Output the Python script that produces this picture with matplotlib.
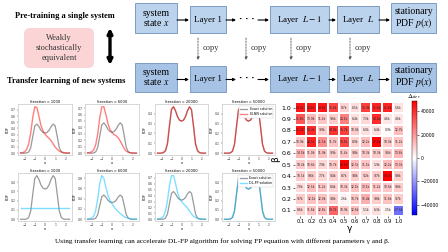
import numpy as np
import matplotlib
matplotlib.use('Agg')
import matplotlib.pyplot as plt
from matplotlib.patches import FancyBboxPatch, Rectangle
from matplotlib.ticker import MultipleLocator

plt.rcParams['mathtext.fontset'] = 'stix'
SERIF = ['Liberation Serif', 'DejaVu Serif']

# ---- curve data ----
x_grid = [-2.4, -2.2, -2.0, -1.8, -1.6, -1.4, -1.2, -1.0, -0.8, -0.6, -0.4, -0.2, 0.0,
          0.2, 0.4, 0.6, 0.8, 1.0, 1.2, 1.4, 1.6, 1.8, 2.0, 2.2, 2.4]
exact = [0.0, 0.0, 0.0, 0.003, 0.02, 0.09, 0.27, 0.44, 0.47, 0.43, 0.37, 0.335, 0.325,
         0.335, 0.37, 0.43, 0.47, 0.44, 0.27, 0.09, 0.02, 0.003, 0.0, 0.0, 0.0]

red_1000 = [0.005, 0.01, 0.02, 0.06, 0.15, 0.33, 0.58, 0.75, 0.74, 0.60, 0.45, 0.36, 0.31,
            0.27, 0.24, 0.20, 0.15, 0.10, 0.06, 0.035, 0.02, 0.01, 0.005, 0.003, 0.002]
red_6000 = [0.005, 0.01, 0.02, 0.05, 0.13, 0.30, 0.55, 0.72, 0.72, 0.60, 0.46, 0.37, 0.32,
            0.29, 0.27, 0.24, 0.19, 0.13, 0.07, 0.03, 0.015, 0.007, 0.003, 0.002, 0.001]
red_20000 = [0.0, 0.0, 0.002, 0.01, 0.03, 0.11, 0.29, 0.45, 0.47, 0.43, 0.37, 0.335, 0.325,
             0.335, 0.37, 0.43, 0.47, 0.44, 0.28, 0.10, 0.03, 0.008, 0.002, 0.0, 0.0]
red_50000 = [0.0, 0.0, 0.0, 0.004, 0.02, 0.09, 0.27, 0.44, 0.47, 0.43, 0.37, 0.335, 0.325,
             0.335, 0.37, 0.43, 0.47, 0.44, 0.27, 0.09, 0.02, 0.004, 0.0, 0.0, 0.0]

blue_1000 = [0.117] * 25
blue_6000 = [0.003, 0.01, 0.02, 0.06, 0.17, 0.40, 0.70, 0.85, 0.80, 0.62, 0.47, 0.37, 0.30,
             0.24, 0.19, 0.15, 0.11, 0.08, 0.05, 0.03, 0.02, 0.01, 0.005, 0.003, 0.002]
blue_20000 = [0.003, 0.01, 0.02, 0.05, 0.14, 0.32, 0.57, 0.74, 0.74, 0.61, 0.46, 0.36, 0.30,
              0.26, 0.23, 0.19, 0.14, 0.09, 0.05, 0.03, 0.015, 0.008, 0.004, 0.002, 0.001]
blue_50000 = [0.0, 0.0, 0.0, 0.003, 0.02, 0.09, 0.27, 0.44, 0.47, 0.43, 0.37, 0.335, 0.325,
              0.335, 0.37, 0.43, 0.47, 0.44, 0.27, 0.09, 0.02, 0.003, 0.0, 0.0, 0.0]

iterations = [1000, 6000, 20000, 50000]
red_curves = [red_1000, red_6000, red_20000, red_50000]
blue_curves = [blue_1000, blue_6000, blue_20000, blue_50000]

# ---- heatmap data (rows: beta 1.0 -> 0.1, cols: gamma 0.1 -> 1.0), in thousands ----
gammas = ['0.1', '0.2', '0.3', '0.4', '0.5', '0.6', '0.7', '0.8', '0.9', '1.0']
betas = ['1.0', '0.9', '0.8', '0.7', '0.6', '0.5', '0.4', '0.3', '0.2', '0.1']
delta_k = [
    [44.4, 44.4, 44.6, 35.6, 8.7, 6.5, 36.9, 41.6, 41.6, 5.6],
    [31.8, 13.9, 11.4, 9.6, 24.1, 6.4, 7.3, 40.6, 4.6, 4.6],
    [45.2, 40.3, 9.9, 39.0, 36.7, 10.0, 6.0, 6.4, 0.9, 12.7],
    [10.9, 42.3, 21.5, 11.7, 34.8, 8.9, 12.2, 47.3, 10.0, 11.2],
    [14.5, 11.0, 11.9, 9.9, 11.4, 9.8, 10.3, 10.3, 9.6, 13.8],
    [10.2, 10.6, 7.9, 10.7, 48.8, 12.3, 11.1, 5.9, 12.2, 13.3],
    [10.1, 9.6, 7.7, 9.4, 8.7, 9.8, 9.2, 9.7, 48.3, 9.8],
    [7.0, 12.5, 11.2, 8.4, 10.3, 12.1, 13.1, 11.2, 10.6, 9.6],
    [9.7, 12.1, 12.0, 9.8, 2.6, 10.7, 15.4, 9.8, 11.6, 9.7],
    [8.6, 11.6, 12.8, 29.7, 10.9, 12.6, 5.1, 6.3, 2.5, -27.6],
]

W, H = 448, 252
fig = plt.figure(figsize=(W / 100, H / 100), dpi=100)


def px_axes(x0, y0, x1, y1):
    return fig.add_axes([x0 / W, 1 - y1 / H, (x1 - x0) / W, (y1 - y0) / H])


# ---- diagram (drawn in pixel coordinates) ----
ax0 = fig.add_axes([0, 0, 1, 1])
ax0.set_xlim(0, W)
ax0.set_ylim(H, 0)
ax0.axis('off')

ax0.text(65, 16, 'Pre-training a single system', family=SERIF, weight='bold',
         fontsize=6, ha='center', va='center')
ax0.text(66, 81, 'Transfer learning of new systems', family=SERIF, weight='bold',
         fontsize=6, ha='center', va='center')
ax0.add_patch(FancyBboxPatch((24, 28), 70, 40, boxstyle='round,pad=0,rounding_size=6',
                             fc='#fbd5d5', ec='none'))
ax0.text(59, 48, 'Weakly\nstochastically\nequivalent', family=SERIF, fontsize=6,
         ha='center', va='center', color='#333333', linespacing=1.25)
ax0.annotate('', xy=(110, 28), xytext=(110, 65),
             arrowprops=dict(arrowstyle='<|-|>', color='black', lw=2.4,
                             mutation_scale=7, shrinkA=0, shrinkB=0))

boxes = [(135, 177, 'system\nstate $x$', 7), (190, 226, 'Layer 1', 6.5),
         (270, 329, 'Layer  $L-1$', 6.5), (337, 379, 'Layer  $L$', 6.5),
         (391, 436, 'stationary\nPDF $p(x)$', 7)]
rows = [(5, 33, '#bcd3ee'), (65, 92, '#a6c3e6')]
for y0, y1, fc in rows:
    for i, (x0, x1, label, fs) in enumerate(boxes):
        top = y0 - 2 if i in (0, 4) else y0 + 1
        ax0.add_patch(Rectangle((x0, top), x1 - x0, y1 - top, fc=fc, ec='#6f8fb8', lw=0.6))
        ax0.text((x0 + x1) / 2, (top + y1) / 2, label, family=SERIF, fontsize=fs,
                 ha='center', va='center', linespacing=1.0)
    ym = (y0 + y1) / 2 + 1
    for xa, xb in [(177, 189), (226, 236), (258, 269), (329, 336), (379, 390)]:
        ax0.annotate('', xy=(xb, ym), xytext=(xa, ym),
                     arrowprops=dict(arrowstyle='-|>', color='black', lw=0.8,
                                     mutation_scale=4, shrinkA=0, shrinkB=0))
    ax0.text(247, ym - 1, '· · ·', fontsize=6, ha='center', va='center', weight='bold')

for xc in [198, 246, 291, 350]:
    ax0.annotate('', xy=(xc, 60), xytext=(xc, 38),
                 arrowprops=dict(arrowstyle='-|>', color='#555555', lw=0.6, ls=(0, (2, 1.5)),
                                 mutation_scale=4, shrinkA=0, shrinkB=0))
    ax0.text(xc + 5, 48, 'copy', family=SERIF, fontsize=6, ha='left', va='center',
             color='#333333')

ax0.text(222, 241, 'Using transfer learning can accelerate DL-FP algorithm for solving FP '
         'equation with different parameters \u03b3 and \u03b2.', family=SERIF,
         fontsize=5.2, ha='center', va='center')

# ---- small PDF panels ----
col_x = [(18, 72), (85, 139), (155, 208), (222, 275)]
row_y = [(104, 155), (173, 221)]
for r, (curves, color, name) in enumerate([(red_curves, 'red', 'ELNN solution'),
                                           (blue_curves, 'deepskyblue', 'DL-FP solution')]):
    for c, it in enumerate(iterations):
        ax = px_axes(col_x[c][0], row_y[r][0], col_x[c][1], row_y[r][1])
        ax.plot(x_grid, exact, color='gray', alpha=0.8, lw=0.9, label='Exact solution')
        ax.plot(x_grid, curves[c], color=color, alpha=0.5, lw=1.0, label=name)
        ax.set_xlim(-2.65, 2.65)
        ax.set_xticks([-2, -1, 0, 1, 2])
        top = max(max(curves[c]), max(exact))
        ax.set_ylim(-0.04 * top, top * 1.06)
        ax.yaxis.set_major_locator(MultipleLocator(0.2 if top > 0.8 else 0.1))
        ax.set_title(f'Iteration = {it}', fontsize=2.6, pad=1.0)
        ax.set_xlabel('x', fontsize=2.6, labelpad=0.2)
        ax.set_ylabel('PDF', fontsize=2.6, labelpad=0.8)
        ax.tick_params(labelsize=2.2, length=1.0, width=0.3, pad=0.6, colors='#333333')
        for s in ax.spines.values():
            s.set_color('#c8c8c8')
            s.set_linewidth(0.5)
        if c == 3:
            ax.legend(loc='upper right', fontsize=2.3, handlelength=2.2, borderpad=0.4,
                      framealpha=1, edgecolor='#cccccc').get_frame().set_linewidth(0.3)

# ---- heatmap ----
vals = np.array(delta_k) * 1000
lim = np.abs(vals).max()
axh = px_axes(295, 102, 404, 216)
mesh = axh.pcolormesh(vals, cmap='bwr', vmin=-lim, vmax=lim, edgecolors='white', linewidth=0.3)
axh.set_ylim(len(betas), 0)
for i in range(len(betas)):
    for j in range(len(gammas)):
        axh.text(j + 0.5, i + 0.5, f'{delta_k[i][j]:.1f}k', fontsize=2.2,
                 ha='center', va='center', color='#222222')
axh.set_xticks(np.arange(len(gammas)) + 0.5, gammas)
axh.set_yticks(np.arange(len(betas)) + 0.5, betas)
axh.tick_params(axis='x', labelsize=3.8, length=1.5, width=0.4, pad=1)
axh.tick_params(axis='y', labelsize=4.5, length=1.5, width=0.4, pad=1)
axh.set_xlabel('\u03b3', fontsize=6.5, labelpad=0)
axh.set_ylabel('\u03b2', fontsize=6.5, labelpad=1)
for s in axh.spines.values():
    s.set_visible(False)

cax = px_axes(412, 101, 417, 215)
cb = fig.colorbar(mesh, cax=cax, ticks=[-40000, -20000, 0, 20000, 40000])
cb.ax.tick_params(labelsize=3.3, length=1.5, width=0.4, pad=1)
cb.outline.set_linewidth(0.3)
cax.set_title('$\\Delta_{iter}$', fontsize=5, pad=1)

fig.savefig('out.png', dpi=100)
